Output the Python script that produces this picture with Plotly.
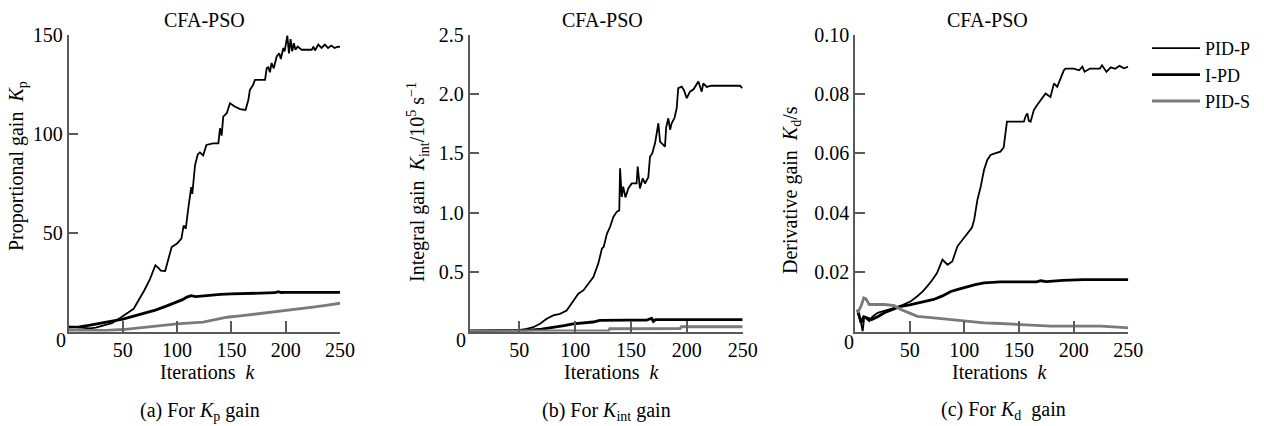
import plotly.graph_objects as go

# ---------------- data ----------------
SERIES_NAMES = ["PID-P", "I-PD", "PID-S"]
PANEL_TITLES = ["CFA-PSO", "CFA-PSO", "CFA-PSO"]

# (a) Proportional gain Kp
KP_PIDP_K = [0, 5, 10, 15, 20, 25, 30, 35, 40, 45, 50, 55, 60, 65, 70, 75, 80, 83, 85, 89, 92, 95, 100,
             104, 106, 108, 110, 112, 113, 114, 116.5, 119, 121, 124, 127, 133, 138, 139.5, 141, 142.5,
             145.7, 148.7, 153, 158, 163, 165.6, 167, 170, 171.7, 181, 182.5, 184, 185.5, 187, 189,
             191.7, 194, 195.5, 197.8, 199, 201.5, 203, 204.5, 206, 207.5, 209, 211, 214.7, 224, 225.5,
             227, 230, 233, 236, 239, 242, 245, 248, 250]
KP_PIDP_V = [2.5, 2.2, 2.0, 1.8, 1.6, 2.0, 2.8, 3.5, 4.2, 6.0, 8.0, 9.6, 11.5, 16.0, 21.0, 26.5, 33.5,
             32.0, 30.8, 30.6, 37.0, 42.7, 44.5, 47.0, 53.5, 52.0, 61.0, 70.0, 73.0, 69.5, 84.0, 89.5,
             90.5, 89.0, 94.3, 95.1, 95.1, 102.7, 99.0, 108.6, 110.3, 115.4, 113.7, 112.4, 112.0, 117.0,
             122.0, 124.7, 127.2, 127.2, 133.1, 133.5, 131.0, 135.7, 133.0, 139.0, 140.6, 137.7, 143.3,
             141.6, 149.5, 140.6, 147.8, 141.6, 145.7, 142.4, 144.0, 142.4, 142.4, 144.0, 142.0, 145.0,
             143.3, 145.0, 143.3, 144.5, 143.3, 144.0, 143.8]
KP_IPD_K = [0, 10, 20, 30, 40, 50, 60, 70, 80, 90, 100, 105, 109, 113, 117, 120, 130, 140, 150, 160,
            170, 180, 190, 193, 196, 200, 210, 220, 230, 240, 250]
KP_IPD_V = [2.2, 2.3, 3.2, 4.2, 5.2, 6.3, 7.8, 9.3, 10.8, 12.8, 14.8, 16.1, 17.4, 18.1, 17.6, 17.8,
            18.3, 18.8, 19.0, 19.1, 19.2, 19.4, 19.6, 20.1, 19.7, 19.8, 19.8, 19.8, 19.8, 19.8, 19.8]
KP_PIDS_K = [0, 20, 35, 50, 60, 70, 80, 90, 100, 110, 124, 135, 146, 160, 176, 190, 201, 213, 225, 237, 250]
KP_PIDS_V = [0.5, 0.4, 0.5, 1.0, 1.6, 2.2, 2.8, 3.4, 3.9, 4.2, 4.7, 6.0, 7.2, 8.0, 9.0, 9.8, 10.6,
             11.5, 12.3, 13.2, 14.3]

# (b) Integral gain Kint (x 1e5 1/s)
KI_PIDP_K = [5, 28, 50.6, 56.6, 62.5, 68.5, 74.5, 80.4, 86.4, 92.4, 98.3, 102.8, 107.3, 111.8, 116.3,
             120.7, 124, 125.5, 128.5, 131.2, 134.2, 137.2, 139.5, 140.2, 141.7, 143, 145, 147.6, 150.6,
             155, 156, 158, 160.5, 162.5, 165.5, 167, 169, 171.5, 174.5, 176, 180.4, 181.5, 183.4, 185,
             186.4, 189, 190.9, 192.3, 195.4, 197.5, 199.9, 202.8, 206, 210.3, 213.3, 214.7, 217.8, 222,
             229.7, 240, 247.6, 249.7]
KI_PIDP_V = [0.005, 0.008, 0.013, 0.022, 0.036, 0.065, 0.107, 0.135, 0.149, 0.177, 0.262, 0.318, 0.346,
             0.40, 0.459, 0.572, 0.70, 0.712, 0.825, 0.88, 0.965, 1.008, 1.02, 1.374, 1.134, 1.22, 1.13,
             1.205, 1.247, 1.247, 1.39, 1.205, 1.29, 1.247, 1.30, 1.472, 1.50, 1.585, 1.754, 1.60,
             1.557, 1.72, 1.796, 1.70, 1.754, 1.80, 1.881, 2.05, 2.063, 2.03, 1.965, 2.02, 2.04, 2.105,
             2.02, 2.09, 2.06, 2.07, 2.07, 2.07, 2.07, 2.05]
KI_IPD_K = [5, 40, 56.6, 70, 83.5, 90, 98, 105, 116, 122, 130, 146, 160, 164, 167, 168.5, 170, 172,
            180, 200, 220, 250]
KI_IPD_V = [0.005, 0.005, 0.01, 0.02, 0.036, 0.05, 0.065, 0.072, 0.08, 0.093, 0.095, 0.095, 0.095,
            0.095, 0.107, 0.11, 0.085, 0.10, 0.10, 0.10, 0.10, 0.10]
KI_PIDS_K = [5, 130, 131, 194, 195, 250]
KI_PIDS_V = [0.005, 0.008, 0.023, 0.025, 0.04, 0.04]

# (c) Derivative gain Kd (s)
KD_PIDP_K = [2.4, 5.5, 7, 8.5, 13, 16, 20.7, 28, 36, 44, 51, 57, 62, 66, 70, 75, 80, 84.6, 89, 93.7,
             99.7, 104, 107, 109, 112, 115, 118, 121, 124, 128, 133, 136, 137.5, 139, 154.5, 156, 157.6,
             159, 160.6, 162, 163.6, 166, 169.7, 174.3, 178.8, 182, 185, 188, 191, 192.5, 200, 205, 208,
             210, 215, 220, 224, 226, 230, 234, 238, 242, 246, 250]
KD_PIDP_V = [0.0063, 0.003, 0.0, 0.005, 0.0035, 0.005, 0.0063, 0.007, 0.008, 0.009, 0.0102, 0.0119,
             0.0135, 0.0152, 0.017, 0.0197, 0.0242, 0.0225, 0.0236, 0.0287, 0.0315, 0.0337, 0.035,
             0.0376, 0.0444, 0.0488, 0.0544, 0.0578, 0.0595, 0.0600, 0.0606, 0.062, 0.066, 0.0707,
             0.0707, 0.0725, 0.0735, 0.071, 0.0707, 0.073, 0.0746, 0.076, 0.078, 0.0802, 0.079, 0.0836,
             0.0824, 0.0853, 0.088, 0.0886, 0.0886, 0.0880, 0.0892, 0.0875, 0.0886, 0.0886, 0.0886,
             0.0897, 0.0875, 0.089, 0.0885, 0.0895, 0.0887, 0.0892]
KD_IPD_K = [2.4, 5.5, 8, 11.6, 15, 20.7, 26.8, 35, 42, 50, 57, 65, 72, 80, 87.6, 95, 103, 110, 118, 125,
            133, 150, 166, 170, 175, 190, 209, 230, 250]
KD_IPD_V = [0.0074, 0.003, 0.005, 0.0046, 0.004, 0.005, 0.0063, 0.0075, 0.0085, 0.009, 0.0096, 0.0102,
            0.0108, 0.012, 0.0135, 0.0143, 0.0152, 0.0158, 0.0164, 0.0166, 0.0167, 0.0167, 0.0167,
            0.0171, 0.0168, 0.0172, 0.0175, 0.0175, 0.0175]
KD_PIDS_K = [2.4, 5.5, 8, 10, 13, 20, 27, 36, 42, 50, 57, 72, 87.6, 103, 118, 133, 148.5, 165, 179, 200,
             225, 240, 250]
KD_PIDS_V = [0.0063, 0.0085, 0.0113, 0.011, 0.0091, 0.0091, 0.0091, 0.0087, 0.0074, 0.0062, 0.0051,
             0.0046, 0.004, 0.0035, 0.0029, 0.0027, 0.0024, 0.0021, 0.0018, 0.0018, 0.0018, 0.0015, 0.0012]

X_TICKS = [50, 100, 150, 200, 250]
KP_TICKS = [50, 100, 150]
KI_TICKS = [0.5, 1.0, 1.5, 2.0, 2.5]
KI_TICKTEXT = ["0.5", "1.0", "1.5", "2.0", "2.5"]
KD_TICKS = [0.02, 0.04, 0.06, 0.08, 0.10]
KD_TICKTEXT = ["0.02", "0.04", "0.06", "0.08", "0.10"]

# ---------------- styling ----------------
W, H = 1264, 426
FONT = "Liberation Serif, Times New Roman, serif"
FS = 20
AXC = "#5a5a5a"
STYLES = {
    "PID-P": dict(color="#000000", width=1.8),
    "I-PD": dict(color="#000000", width=2.8),
    "PID-S": dict(color="#7a7a7a", width=2.8),
}

fig = go.Figure()

panels = [
    ("x", "y", [(KP_PIDP_K, KP_PIDP_V), (KP_IPD_K, KP_IPD_V), (KP_PIDS_K, KP_PIDS_V)], False),
    ("x2", "y2", [(KI_PIDP_K, KI_PIDP_V), (KI_IPD_K, KI_IPD_V), (KI_PIDS_K, KI_PIDS_V)], False),
    ("x3", "y3", [(KD_PIDP_K, KD_PIDP_V), (KD_IPD_K, KD_IPD_V), (KD_PIDS_K, KD_PIDS_V)], True),
]
for xa, ya, series, show in panels:
    for name, (kx, vy) in zip(SERIES_NAMES, series):
        fig.add_trace(go.Scatter(x=kx, y=vy, mode="lines", name=name, line=STYLES[name],
                                 xaxis=xa, yaxis=ya, showlegend=show, hoverinfo="skip"))

def px_x(p):
    return p / W

def px_y(p):
    return (H - p) / H

y_dom = [px_y(331.5), px_y(34.7)]
x_doms = [[px_x(68.5), px_x(340)], [px_x(469.5), px_x(742.7)], [px_x(855), px_x(1128.3)]]
x_ranges = [[0, 250], [5.4, 250], [0, 250]]

common_axis = dict(showline=True, linecolor=AXC, linewidth=1.5, ticks="inside", tickcolor=AXC,
                   tickwidth=1.5, showgrid=False, zeroline=False,
                   tickfont=dict(family=FONT, size=FS, color="#000"))

layout = dict(width=W, height=H, autosize=False,
              margin=dict(l=0, r=0, t=0, b=0, autoexpand=False),
              paper_bgcolor="white", plot_bgcolor="white",
              font=dict(family=FONT, size=FS, color="#000"),
              showlegend=True,
              legend=dict(x=px_x(1147), y=px_y(30), xanchor="left", yanchor="top",
                          font=dict(family=FONT, size=18, color="#000"),
                          bgcolor="rgba(0,0,0,0)", itemwidth=48, tracegroupgap=0))

yaxes = [
    dict(range=[0, 150], tickvals=KP_TICKS),
    dict(range=[0, 2.5], tickvals=KI_TICKS, ticktext=KI_TICKTEXT),
    dict(range=[0, 0.1], tickvals=KD_TICKS, ticktext=KD_TICKTEXT),
]
for i in range(3):
    sx = "xaxis" if i == 0 else f"xaxis{i+1}"
    sy = "yaxis" if i == 0 else f"yaxis{i+1}"
    anchor_y = "y" if i == 0 else f"y{i+1}"
    anchor_x = "x" if i == 0 else f"x{i+1}"
    layout[sx] = dict(common_axis, domain=x_doms[i], range=x_ranges[i], tickvals=X_TICKS,
                      ticklen=11, anchor=anchor_y, ticklabelstandoff=0)
    layout[sy] = dict(common_axis, domain=y_dom, anchor=anchor_x, ticklen=10,
                      ticklabelstandoff=0, **yaxes[i])

fig.update_layout(**layout)

def ann(text, x, y, angle=0, size=FS, xanchor="center"):
    fig.add_annotation(text=text, x=px_x(x), y=px_y(y), xref="paper", yref="paper",
                       showarrow=False, textangle=angle, xanchor=xanchor, yanchor="middle",
                       font=dict(family=FONT, size=size, color="#000"))

# titles
ann(PANEL_TITLES[0], 204, 20)
ann(PANEL_TITLES[1], 602, 20)
ann(PANEL_TITLES[2], 988, 20)
# corner zeros
ann("0", 61, 340)
ann("0", 461, 340)
ann("0", 849, 342)
# x titles
for cx in (208, 612, 1000):
    ann("Iterations  <i>k</i>", cx, 372)
# y titles
ann("Proportional gain  <i>K</i><sub>p</sub>", 18, 166, angle=-90)
ann("Integral gain  <i>K</i><sub>int</sub>/10<sup>5</sup> s<sup>\u22121</sup>", 418, 182, angle=-90)
ann("Derivative gain  <i>K</i><sub>d</sub>/s", 791, 190, angle=-90)
# captions
ann("(a) For <i>K</i><sub>p</sub> gain", 200, 411)
ann("(b) For <i>K</i><sub>int</sub> gain", 606, 411)
ann("(c) For <i>K</i><sub>d</sub>  gain", 1003, 410)

fig.write_html("out.html", config={"responsive": False, "displayModeBar": False},
               post_script="document.body.style.margin='0';document.body.style.overflow='hidden';")
